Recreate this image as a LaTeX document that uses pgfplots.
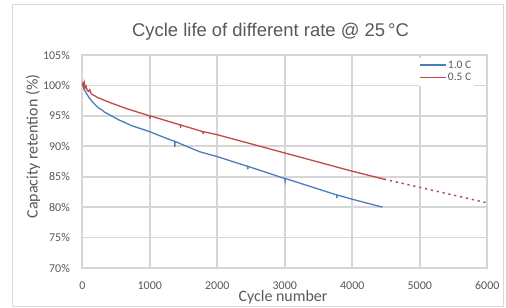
\documentclass[border=0pt]{standalone}
\usepackage{pgfplots}
\pgfplotsset{compat=1.18}
\usepackage{fontspec}
\setmainfont{Carlito}
\newfontfamily\titlefont{Liberation Sans}
\newfontfamily\legfont[Color=595959]{Carlito}
\definecolor{txt}{HTML}{595959}
\definecolor{gridc}{HTML}{D6D6D6}
\definecolor{bordc}{HTML}{D9D9D9}
\definecolor{cblue}{HTML}{4A7EBB}
\definecolor{cred}{HTML}{BE4B48}
\begin{document}
\begin{tikzpicture}
\useasboundingbox (-82.3bp,-40bp) rectangle (423.7bp,268bp);
\fill[white] (-82.3bp,-40bp) rectangle (423.7bp,268bp);
\draw[bordc, line width=1bp] (-69.3bp,-38bp) rectangle (421bp,263bp);
\begin{axis}[
  at={(0,0)}, anchor=south west,
  scale only axis, width=405bp, height=213bp,
  xmin=0, xmax=6000, ymin=70, ymax=105,
  xtick={0,1000,2000,3000,4000,5000,6000},
  xticklabels={0,1000,2000,3000,4000,5000,6000},
  ytick={70,75,80,85,90,95,100,105},
  yticklabels={70\%,75\%,80\%,85\%,90\%,95\%,100\%,105\%},
  major tick length=0pt,
  grid=major,
  grid style={gridc, line width=1.6bp},
  axis line style={gridc, line width=1.6bp},
  ticklabel style={font=\fontsize{12}{14}\selectfont, text=txt, inner sep=0pt},
  yticklabel style={anchor=east, xshift=-12.3bp},
  xticklabel style={anchor=north, yshift=-13.7bp},
  legend style={at={(rel axis cs:0.832,0.985)}, anchor=north west, draw=white, fill=white,
    font=\legfont\fontsize{11.5}{13}\selectfont, inner sep=1bp, row sep=0.5bp,
    nodes={inner sep=1.5bp}},
  legend cell align=left,
  clip=false,
]
\addplot[cblue, line width=1.3bp,
  legend image code/.code={\node[inner sep=0pt, anchor=west] at (0bp,0bp) {\textcolor{cblue}{\rule[-0.65bp]{26bp}{1.3bp}}};}] coordinates {
(0,100.0) (8,100.3) (15,99.8) (30,99.3) (60,98.7) (100,98.0) (150,97.3) (230,96.4)
(300,95.9) (330,95.6) (400,95.2) (530,94.4) (730,93.4) (1000,92.4) (1200,91.5)
(1370,90.8) (1372,89.9) (1375,90.8) (1500,90.2) (1740,89.1) (2000,88.3)
(2450,86.7) (2452,86.2) (2455,86.7) (3000,84.7) (3005,84.3) (3010,84.7)
(3770,82.0) (3772,81.5) (3775,82.0) (4000,81.3) (4446,80.0)
};
\addlegendentry{1.0 C}
\addplot[cred, line width=1.3bp,
  legend image code/.code={\node[inner sep=0pt, anchor=west] at (0bp,0bp) {\textcolor{cred}{\rule[-0.65bp]{26bp}{1.3bp}}};}] coordinates {
(0,100.0) (10,100.3) (20,99.8) (30,100.4) (40,99.6) (55,99.9) (70,99.3)
(90,99.0) (110,99.3) (130,98.7) (150,98.5) (230,98.0) (430,97.1) (680,96.1) (1000,95.0)
(1002,94.5) (1005,95.0) (1453,93.5) (1455,93.0) (1458,93.5)
(1787,92.4) (1789,92.0) (1792,92.4) (2000,91.9) (3000,88.9) (4000,85.9) (4470,84.6)
};
\addlegendentry{0.5 C}
\addplot[cred, line width=1.5bp, dash pattern=on 2.2bp off 3.8bp, forget plot] coordinates {
(4470,84.6) (6000,80.7)
};
\end{axis}
\node[anchor=base, text=txt, font=\titlefont\fontsize{18.5}{21}\selectfont] at (188.2bp,231.3bp) {Cycle life of different rate @ 25\,°C};
\node[rotate=90, text=txt, font=\fontsize{16}{18}\selectfont] at (-49.3bp,121.5bp) {Capacity retention (\%)};
\node[anchor=base, text=txt, font=\fontsize{16}{18}\selectfont] at (200.7bp,-33.3bp) {Cycle number};
\end{tikzpicture}
\end{document}
